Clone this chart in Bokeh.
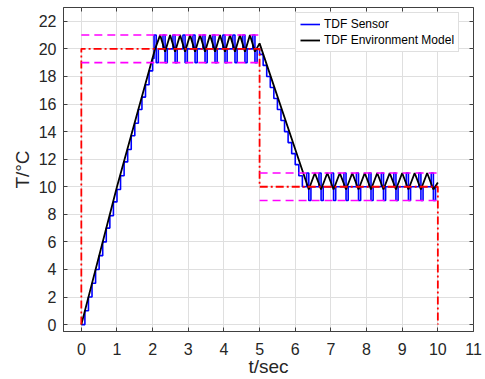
from bokeh.plotting import figure
from bokeh.models import LinearAxis, Range1d, FixedTicker, Legend, LegendItem
from bokeh.embed import file_html
from bokeh.resources import INLINE

# ---- data ----
blue_t = [0.0, 0.1, 0.2, 0.3, 0.4, 0.5, 0.6, 0.7, 0.8, 0.9, 1.0, 1.1, 1.2, 1.3, 1.4, 1.5,
          1.6, 1.7, 1.8, 1.9, 2.0,
          2.04, 2.1, 2.16, 2.29, 2.35, 2.41, 2.57, 2.63, 2.69, 2.85, 2.91, 2.97,
          3.13, 3.19, 3.25, 3.41, 3.47, 3.53, 3.69, 3.75, 3.81, 3.97, 4.03, 4.09,
          4.25, 4.31, 4.37, 4.53, 4.59, 4.65, 4.81, 4.87, 4.93,
          5.0, 5.1, 5.2, 5.3, 5.4, 5.5, 5.6, 5.7, 5.8, 5.9, 6.0, 6.1, 6.2,
          6.32, 6.38, 6.44, 6.665, 6.725, 6.785, 7.015, 7.075, 7.135, 7.365, 7.425, 7.485,
          7.715, 7.775, 7.835, 8.065, 8.125, 8.185, 8.415, 8.475, 8.535, 8.765, 8.825, 8.885,
          9.115, 9.175, 9.235, 9.465, 9.525, 9.585, 9.815, 9.875, 9.935, 10.0]
blue_T = [0.0, 1.0, 2.0, 3.0, 4.0, 5.0, 6.0, 7.0, 7.9, 8.9, 9.8, 10.8, 11.8, 12.7, 13.7, 14.6,
          15.6, 16.5, 17.4, 18.4, 19.3,
          21, 19, 20, 21, 19, 20, 21, 19, 20, 21, 19, 20,
          21, 19, 20, 21, 19, 20, 21, 19, 20, 21, 19, 20,
          21, 19, 20, 21, 19, 20, 21, 19, 20,
          19.6, 18.8, 18.0, 17.2, 16.4, 15.6, 14.8, 14.0, 13.2, 12.4, 11.6, 10.8, 10.0,
          11, 9, 10, 11, 9, 10, 11, 9, 10, 11, 9, 10,
          11, 9, 10, 11, 9, 10, 11, 9, 10, 11, 9, 10,
          11, 9, 10, 11, 9, 10, 11, 9, 10, 10]

black_t = [0.0, 1.0, 2.07,
           2.21, 2.35, 2.49, 2.63, 2.77, 2.91, 3.05, 3.19, 3.33, 3.47, 3.61, 3.75, 3.89, 4.03,
           4.17, 4.31, 4.45, 4.59, 4.73, 4.87, 5.0,
           6.38,
           6.55, 6.725, 6.9, 7.075, 7.25, 7.425, 7.6, 7.775, 7.95, 8.125, 8.3, 8.475, 8.65,
           8.825, 9.0, 9.175, 9.35, 9.525, 9.7, 9.875, 10.0]
black_T = [0.0, 10.0, 20.0,
           21, 19.8, 21, 19.8, 21, 19.8, 21, 19.8, 21, 19.8, 21, 19.8, 21, 19.8,
           21, 19.8, 21, 19.8, 21, 19.8, 20.4,
           9.8,
           11, 9.8, 11, 9.8, 11, 9.8, 11, 9.8, 11, 9.8, 11, 9.8, 11,
           9.8, 11, 9.8, 11, 9.8, 11, 9.8, 10.3]

ref_t = [0, 0, 5, 5, 10, 10]
ref_T = [0, 20, 20, 10, 10, 0]

band_t = [[0, 5], [0, 5], [5, 10], [5, 10]]
band_T = [[21, 21], [19, 19], [11, 11], [9, 9]]

x_ticks = [0, 1, 2, 3, 4, 5, 6, 7, 8, 9, 10, 11]
y_ticks = [0, 2, 4, 6, 8, 10, 12, 14, 16, 18, 20, 22]

FONT = "Liberation Sans"
TXT = "#262626"
AX = "#404040"

p = figure(frame_width=410, frame_height=324,
           x_range=Range1d(-0.5, 11), y_range=Range1d(-0.5, 23),
           output_backend="svg", toolbar_location=None,
           min_border_left=63, min_border_top=7, min_border_right=9, min_border_bottom=44,
           background_fill_color="white", border_fill_color="white")

p.outline_line_color = AX
p.outline_line_width = 1

for ax in (p.xaxis[0], p.yaxis[0]):
    ax.major_tick_in = 4
    ax.major_tick_out = 0
    ax.minor_tick_line_color = None
    ax.axis_line_color = AX
    ax.major_tick_line_color = AX
    ax.major_label_text_font = FONT
    ax.major_label_text_font_size = "16px"
    ax.major_label_text_color = TXT
    ax.axis_label_text_font = FONT
    ax.axis_label_text_font_size = "19px"
    ax.axis_label_text_font_style = "normal"
    ax.axis_label_text_color = TXT

p.xaxis[0].ticker = FixedTicker(ticks=x_ticks)
p.yaxis[0].ticker = FixedTicker(ticks=y_ticks)
p.xaxis[0].axis_label = "t/sec"
p.yaxis[0].axis_label = "T/°C"
p.xaxis[0].major_label_standoff = 11
p.yaxis[0].major_label_standoff = 7
p.xaxis[0].axis_label_standoff = -2
p.yaxis[0].axis_label_standoff = 3

# mirrored tick axes (top / right)
top = LinearAxis(ticker=FixedTicker(ticks=x_ticks), major_label_text_font_size="0px",
                 major_label_standoff=0, major_tick_in=4, major_tick_out=0,
                 minor_tick_line_color=None, axis_line_color=None, major_tick_line_color=AX)
right = LinearAxis(ticker=FixedTicker(ticks=y_ticks), major_label_text_font_size="0px",
                   major_label_standoff=0, major_tick_in=4, major_tick_out=0,
                   minor_tick_line_color=None, axis_line_color=None, major_tick_line_color=AX)
p.add_layout(top, "above")
p.add_layout(right, "right")

p.xgrid.ticker = FixedTicker(ticks=x_ticks)
p.ygrid.ticker = FixedTicker(ticks=y_ticks)
p.xgrid.grid_line_color = "#DFDFDF"
p.ygrid.grid_line_color = "#DFDFDF"

r_blue = p.step(blue_t, blue_T, mode="after", line_color="#0000FF", line_width=1.6)
r_black = p.line(black_t, black_T, line_color="#000000", line_width=1.8)
p.line(ref_t, ref_T, line_color="#FF0000", line_width=1.8, line_dash="8 3 2 3")
p.multi_line(band_t, band_T, line_color="#FF00FF", line_width=1.6, line_dash="8 5")

legend = Legend(items=[LegendItem(label="TDF Sensor", renderers=[r_blue]),
                       LegendItem(label="TDF Environment Model", renderers=[r_black])],
                location=(232, 279))
legend.label_text_font = FONT
legend.label_text_font_size = "12px"
legend.label_text_color = "#000000"
legend.glyph_width = 20
legend.glyph_height = 14
legend.label_height = 14
legend.label_standoff = 4
legend.spacing = 2
legend.padding = 4
legend.margin = 0
legend.border_line_color = "#BFBFBF"
legend.border_line_width = 1
legend.background_fill_color = "white"
legend.background_fill_alpha = 1
p.add_layout(legend, "center")

open("out.html", "w").write(file_html(p, INLINE))
